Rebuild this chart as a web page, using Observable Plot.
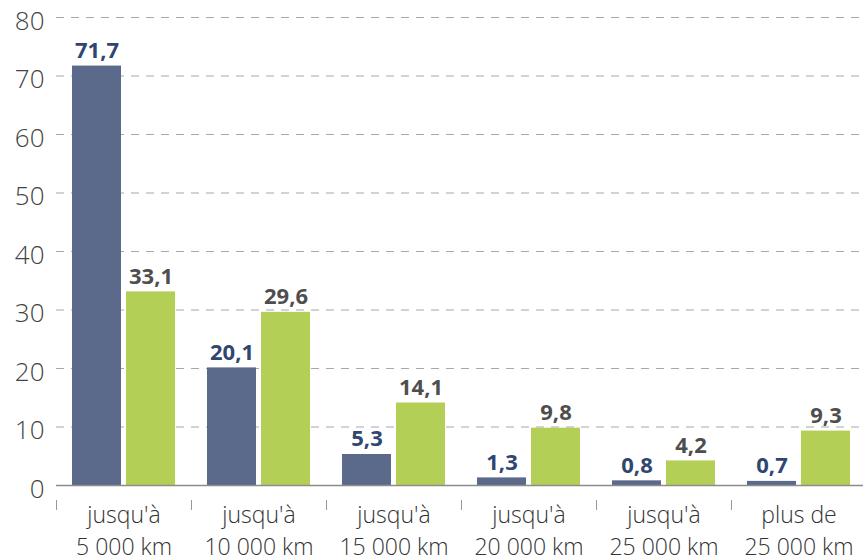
<!DOCTYPE html>
<html>
<head>
<meta charset="utf-8">
<script src="https://cdn.jsdelivr.net/npm/d3@7"></script>
<script src="https://cdn.jsdelivr.net/npm/@observablehq/plot@0.6"></script>
<style>
  html, body { margin: 0; padding: 0; background: #fff; }
  #chart svg { font-family: "Open Sans", sans-serif; }
</style>
</head>
<body>
<div id="chart"></div>
<script>
const categories = [
  "jusqu'à\n5 000 km",
  "jusqu'à\n10 000 km",
  "jusqu'à\n15 000 km",
  "jusqu'à\n20 000 km",
  "jusqu'à\n25 000 km",
  "plus de\n25 000 km"
];
const seriesNames = ["série 1", "série 2"];
const series1 = [71.7, 20.1, 5.3, 1.3, 0.8, 0.7];
const series2 = [33.1, 29.6, 14.1, 9.8, 4.2, 9.3];
const yTicks = [0, 10, 20, 30, 40, 50, 60, 70, 80];

const barColors = ["#5b6a8b", "#b3cf55"];
const labelColors = ["#2f4670", "#4e4e4e"];

const data = [];
categories.forEach((c, i) => {
  data.push({cat: c, series: seriesNames[0], value: series1[i], k: 0});
  data.push({cat: c, series: seriesNames[1], value: series2[i], k: 1});
});
const fmt = v => v.toFixed(1).replace(".", ",");
const offset = 27;

const chart = Plot.plot({
  width: 863,
  height: 560,
  marginLeft: 56,
  marginRight: -3,
  marginTop: 17,
  marginBottom: 75,
  x: {domain: categories, paddingInner: 0.637, paddingOuter: 0.3185, label: null},
  y: {domain: [0, 80], label: null},
  color: {domain: seriesNames, range: barColors},
  marks: [
    Plot.ruleY(yTicks.filter(d => d > 0), {stroke: "#a8a8a8", strokeWidth: 1.2, strokeDasharray: "8,7"}),
    Plot.axisY({ticks: yTicks, tickSize: 0, tickPadding: 12, dy: 4, fontSize: 26, fontWeight: 300, fill: "#444", label: null}),
    Plot.barY(data.filter(d => d.k === 0), {x: "cat", y: "value", fill: "series", dx: -offset}),
    Plot.barY(data.filter(d => d.k === 1), {x: "cat", y: "value", fill: "series", dx: offset}),
    Plot.ruleY([0], {stroke: "#8c8c8c", strokeWidth: 1.5}),
    Plot.text(data.filter(d => d.k === 0), {x: "cat", y: "value", text: d => fmt(d.value), dx: -offset, dy: -8, lineAnchor: "bottom", fill: labelColors[0], fontWeight: "bold", fontSize: 22}),
    Plot.text(data.filter(d => d.k === 1), {x: "cat", y: "value", text: d => fmt(d.value), dx: offset, dy: -8, lineAnchor: "bottom", fill: labelColors[1], fontWeight: "bold", fontSize: 22}),
    Plot.axisX({text: null, tickSize: 10, dx: -67.5, dy: 15, stroke: "#999", label: null}),
    Plot.axisX({tickSize: 0, tickPadding: 15, fontSize: 23, fontWeight: 300, lineHeight: 1.38, fill: "#333", label: null})
  ]
});
document.getElementById("chart").append(chart);
</script>
</body>
</html>
